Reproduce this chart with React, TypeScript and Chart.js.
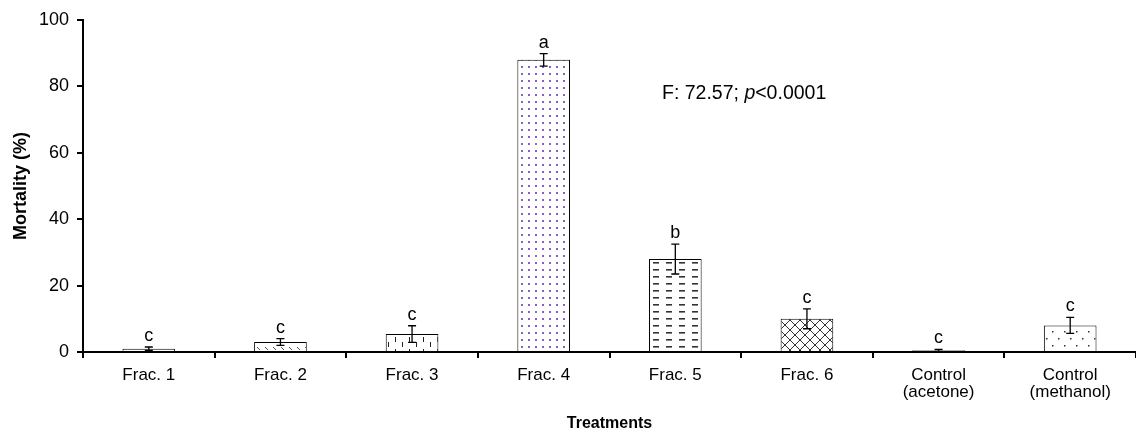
import React, { useEffect, useRef } from "react";
import { Chart, registerables } from "chart.js";

Chart.register(...registerables);

const categories: (string | string[])[] = [
  "Frac. 1",
  "Frac. 2",
  "Frac. 3",
  "Frac. 4",
  "Frac. 5",
  "Frac. 6",
  ["Control", "(acetone)"],
  ["Control", "(methanol)"],
];
const mortality = [1, 3, 5.4, 88, 28, 10, 0.5, 8];
const errors = [0.5, 1, 2.5, 1.9, 4.5, 3, 0.3, 2.4];
const letters = ["c", "c", "c", "a", "b", "c", "c", "c"];
const yTicks = [0, 20, 40, 60, 80, 100];

const FONT = '"Liberation Sans", Arial, sans-serif';

function makePattern(kind: string): CanvasPattern | string {
  const c = document.createElement("canvas");
  const g = c.getContext("2d")!;
  if (kind === "blank") return "#ffffff";
  if (kind === "diag") {
    c.width = 8; c.height = 8;
    g.fillStyle = "#fff"; g.fillRect(0, 0, 8, 8);
    g.strokeStyle = "#555"; g.lineWidth = 1;
    g.beginPath(); g.moveTo(1, 3); g.lineTo(4, 6); g.stroke();
  } else if (kind === "vdash") {
    c.width = 14; c.height = 12;
    g.fillStyle = "#fff"; g.fillRect(0, 0, 14, 12);
    g.fillStyle = "#222";
    g.fillRect(3, 1, 1, 5);
    g.fillRect(10, 6, 1, 5);
  } else if (kind === "purpledots") {
    c.width = 7; c.height = 7;
    g.fillStyle = "#fff"; g.fillRect(0, 0, 7, 7);
    g.fillStyle = "#8a5ec9";
    g.fillRect(3, 3, 2, 2);
  } else if (kind === "hdash") {
    c.width = 13; c.height = 7;
    g.fillStyle = "#fff"; g.fillRect(0, 0, 13, 7);
    g.fillStyle = "#333";
    g.fillRect(3, 3, 6, 1.6);
  } else if (kind === "cross") {
    c.width = 10; c.height = 10;
    g.fillStyle = "#fff"; g.fillRect(0, 0, 10, 10);
    g.strokeStyle = "#333"; g.lineWidth = 1;
    g.beginPath();
    g.moveTo(0, 0); g.lineTo(10, 10);
    g.moveTo(10, 0); g.lineTo(0, 10);
    g.stroke();
  } else if (kind === "sparsedots") {
    c.width = 12; c.height = 14;
    g.fillStyle = "#fff"; g.fillRect(0, 0, 12, 14);
    g.fillStyle = "#333";
    g.fillRect(2, 2, 1.5, 1.5);
    g.fillRect(8, 9, 1.5, 1.5);
  }
  return g.createPattern(c, "repeat")!;
}

const patternKinds = ["blank", "diag", "vdash", "purpledots", "hdash", "cross", "blank", "sparsedots"];

const overlayPlugin = {
  id: "overlay",
  afterDatasetsDraw(chart: any) {
    const ctx: CanvasRenderingContext2D = chart.ctx;
    const meta = chart.getDatasetMeta(0);
    const y = chart.scales.y;
    ctx.save();
    ctx.strokeStyle = "#000";
    ctx.lineWidth = 1.3;
    meta.data.forEach((bar: any, i: number) => {
      const x = bar.x;
      const top = y.getPixelForValue(mortality[i] + errors[i]);
      const bot = y.getPixelForValue(Math.max(0, mortality[i] - errors[i]));
      ctx.beginPath();
      ctx.moveTo(x, top); ctx.lineTo(x, bot);
      ctx.moveTo(x - 4, top); ctx.lineTo(x + 4, top);
      ctx.moveTo(x - 4, bot); ctx.lineTo(x + 4, bot);
      ctx.stroke();
      ctx.fillStyle = "#000";
      ctx.font = `18px ${FONT}`;
      ctx.textAlign = "center";
      ctx.textBaseline = "alphabetic";
      ctx.fillText(letters[i], x, top - 6);
    });
    // annotation
    const ax = chart.chartArea.left + 579;
    const ay = y.getPixelForValue(76.2);
    ctx.textAlign = "left";
    ctx.fillStyle = "#000";
    let cx = ax;
    const parts: [string, string][] = [
      ["F: 72.57; ", `19.5px ${FONT}`],
      ["p", `italic 19.5px ${FONT}`],
      ["<0.0001", `19.5px ${FONT}`],
    ];
    parts.forEach(([t, f]) => {
      ctx.font = f;
      ctx.fillText(t, cx, ay);
      cx += ctx.measureText(t).width;
    });
    ctx.restore();
  },
};

export default function App() {
  const ref = useRef<HTMLCanvasElement>(null);
  useEffect(() => {
    document.body.style.margin = "0";
    const chart = new Chart(ref.current!, {
      type: "bar",
      data: {
        labels: categories,
        datasets: [
          {
            data: mortality,
            backgroundColor: patternKinds.map(makePattern) as any,
            borderColor: "#000",
            borderWidth: 1,
            barPercentage: 0.4,
            categoryPercentage: 1,
          },
        ],
      },
      options: {
        animation: false,
        responsive: false,
        layout: { padding: { top: 20, left: 0, right: 0, bottom: 0 } },
        plugins: { legend: { display: false }, tooltip: { enabled: false } },
        scales: {
          x: {
            grid: { display: true, drawOnChartArea: false, drawTicks: true, tickLength: 6, color: "#000", lineWidth: 2, offset: true },
            border: { display: true, color: "#000", width: 2 },
            ticks: { color: "#000", font: { family: FONT, size: 17, lineHeight: 1.05 }, padding: 8, maxRotation: 0, autoSkip: false },
            title: { display: true, text: "Treatments", color: "#000", font: { family: FONT, size: 16, weight: "bold" }, padding: { top: 12, bottom: 0 } },
            afterFit: (s: any) => { s.height = 81; },
          },
          y: {
            min: 0,
            max: 100,
            afterBuildTicks: (s: any) => { s.ticks = yTicks.map((v) => ({ value: v })); },
            grid: { display: true, drawOnChartArea: false, drawTicks: true, tickLength: 6, color: "#000", lineWidth: 2 },
            border: { display: true, color: "#000", width: 2 },
            ticks: { color: "#000", font: { family: FONT, size: 18 }, padding: 8 },
            title: { display: true, text: "Mortality (%)", color: "#000", font: { family: FONT, size: 18, weight: "bold" }, padding: { top: 10, bottom: 0 } },
            afterFit: (s: any) => { s.width = 83; },
          },
        },
      },
      plugins: [overlayPlugin],
    });
    return () => chart.destroy();
  }, []);
  return <canvas ref={ref} width={1136} height={433} style={{ display: "block" }} />;
}
